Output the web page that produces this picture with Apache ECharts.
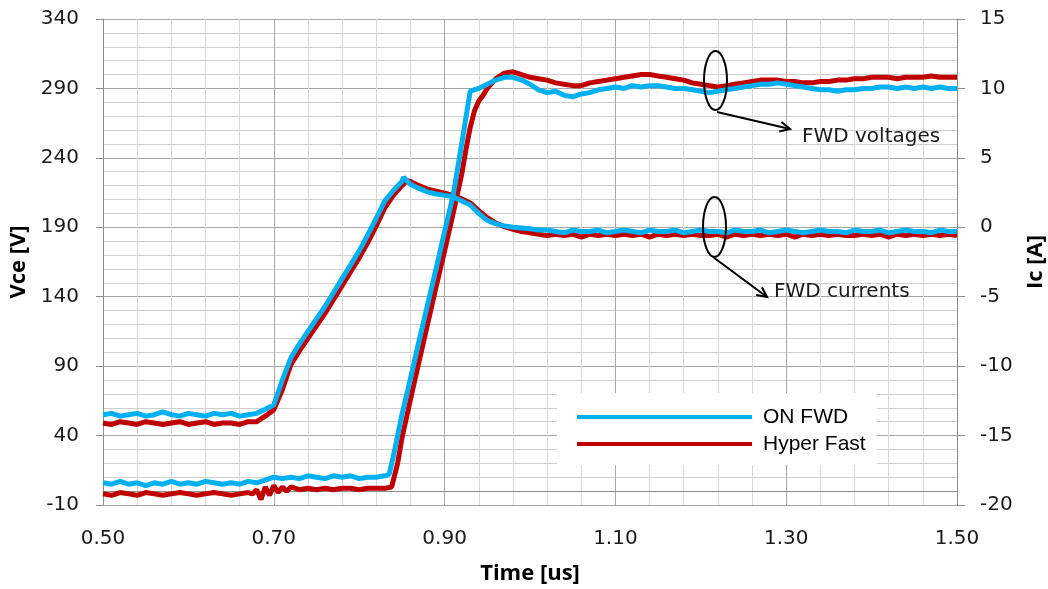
<!DOCTYPE html>
<html>
<head>
<meta charset="utf-8">
<script src="https://cdn.jsdelivr.net/npm/echarts@6/dist/echarts.min.js"></script>
<style>
html,body{margin:0;padding:0;background:#fff;overflow:hidden;}
#chart{width:1048px;height:589px;}
</style>
</head>
<body>
<div id="chart"></div>
<script>
// ---- Data (time in us) ----
const seriesNames = ['ON FWD', 'Hyper Fast'];
const xTicks = { min: 0.50, max: 1.50, interval: 0.20 };
const vceTicks = { min: -10, max: 340, interval: 50 };
const icTicks = { min: -20, max: 15, interval: 5 };

// ON FWD collector-emitter voltage [V]
const onFwdVce = [[0.50,6],[0.51,5],[0.52,7],[0.53,5],[0.54,6],[0.55,4],[0.56,6],[0.57,5],[0.58,7],[0.59,5],[0.60,6],[0.61,5],[0.62,7],[0.63,6],[0.64,5],[0.65,6],[0.66,5],[0.67,7],[0.68,6],[0.69,8],[0.70,10],[0.71,9],[0.72,10],[0.73,9],[0.74,11],[0.75,10],[0.76,9],[0.77,11],[0.78,10],[0.79,11],[0.80,9],[0.81,10],[0.82,10],[0.83,11],[0.835,12],[0.84,25],[0.845,40],[0.85,55],[0.86,81],[0.87,108],[0.88,134],[0.89,160],[0.90,187],[0.91,213],[0.92,250],[0.93,288],[0.94,290],[0.95,293],[0.96,296],[0.97,298],[0.98,298],[0.99,296],[1.00,293],[1.01,289],[1.02,287],[1.03,288],[1.04,285],[1.05,284],[1.06,286],[1.07,287],[1.08,289],[1.09,290],[1.10,291],[1.11,290],[1.12,292],[1.13,291],[1.14,292],[1.15,292],[1.16,291],[1.17,290],[1.18,290],[1.19,289],[1.20,288],[1.21,287],[1.22,288],[1.23,289],[1.24,290],[1.25,291],[1.26,292],[1.27,293],[1.28,293],[1.29,294],[1.30,293],[1.31,292],[1.32,291],[1.33,290],[1.34,289],[1.35,289],[1.36,288],[1.37,289],[1.38,289],[1.39,290],[1.40,290],[1.41,291],[1.42,291],[1.43,290],[1.44,291],[1.45,290],[1.46,291],[1.47,290],[1.48,291],[1.49,290],[1.50,290]];

// Hyper Fast collector-emitter voltage [V]
const hyperFastVce = [[0.50,-2],[0.51,-3],[0.52,-1],[0.53,-2],[0.54,-3],[0.55,-1],[0.56,-2],[0.57,-3],[0.58,-2],[0.59,-1],[0.60,-2],[0.61,-3],[0.62,-2],[0.63,-1],[0.64,-2],[0.65,-3],[0.66,-2],[0.67,-1],[0.675,-2],[0.68,1],[0.685,-6],[0.69,3],[0.695,-3],[0.70,4],[0.705,-1],[0.71,3],[0.715,0],[0.72,3],[0.73,1],[0.74,2],[0.75,1],[0.76,2],[0.77,1],[0.78,2],[0.79,2],[0.80,1],[0.81,2],[0.82,2],[0.83,2],[0.838,3],[0.845,20],[0.85,38],[0.86,66],[0.87,93],[0.88,120],[0.89,147],[0.90,173],[0.91,200],[0.92,228],[0.925,246],[0.93,262],[0.935,274],[0.94,281],[0.945,285],[0.95,290],[0.96,297],[0.97,301],[0.98,302],[0.99,300],[1.00,298],[1.01,297],[1.02,296],[1.03,294],[1.04,293],[1.05,292],[1.06,292],[1.07,294],[1.08,295],[1.09,296],[1.10,297],[1.11,298],[1.12,299],[1.13,300],[1.14,300],[1.15,299],[1.16,298],[1.17,297],[1.18,296],[1.19,294],[1.20,293],[1.21,292],[1.22,291],[1.23,292],[1.24,293],[1.25,294],[1.26,295],[1.27,296],[1.28,296],[1.29,296],[1.30,295],[1.31,295],[1.32,294],[1.33,294],[1.34,295],[1.35,295],[1.36,296],[1.37,296],[1.38,297],[1.39,297],[1.40,298],[1.41,298],[1.42,298],[1.43,297],[1.44,298],[1.45,298],[1.46,298],[1.47,299],[1.48,298],[1.49,298],[1.50,298]];

// ON FWD collector current [A]
const onFwdIc = [[0.50,-13.5],[0.51,-13.4],[0.52,-13.6],[0.53,-13.5],[0.54,-13.4],[0.55,-13.6],[0.56,-13.5],[0.57,-13.3],[0.58,-13.5],[0.59,-13.6],[0.60,-13.4],[0.61,-13.5],[0.62,-13.6],[0.63,-13.4],[0.64,-13.5],[0.65,-13.4],[0.66,-13.6],[0.67,-13.5],[0.68,-13.4],[0.69,-13.1],[0.70,-12.8],[0.71,-11.0],[0.72,-9.4],[0.73,-8.4],[0.74,-7.5],[0.75,-6.6],[0.76,-5.7],[0.77,-4.7],[0.78,-3.7],[0.79,-2.7],[0.80,-1.7],[0.81,-0.55],[0.82,0.65],[0.83,1.9],[0.84,2.65],[0.85,3.3],[0.852,3.6],[0.86,3.1],[0.87,2.8],[0.88,2.55],[0.89,2.4],[0.90,2.3],[0.91,2.2],[0.92,1.9],[0.93,1.6],[0.94,1.0],[0.95,0.5],[0.96,0.25],[0.97,0.1],[0.98,0.0],[0.99,-0.05],[1.00,-0.1],[1.01,-0.2],[1.02,-0.2],[1.03,-0.3],[1.04,-0.4],[1.05,-0.2],[1.06,-0.3],[1.07,-0.3],[1.08,-0.2],[1.09,-0.4],[1.10,-0.3],[1.11,-0.2],[1.12,-0.3],[1.13,-0.4],[1.14,-0.2],[1.15,-0.3],[1.16,-0.3],[1.17,-0.2],[1.18,-0.4],[1.19,-0.3],[1.20,-0.2],[1.21,-0.3],[1.22,-0.3],[1.23,-0.4],[1.24,-0.2],[1.25,-0.3],[1.26,-0.3],[1.27,-0.2],[1.28,-0.4],[1.29,-0.3],[1.30,-0.2],[1.31,-0.3],[1.32,-0.4],[1.33,-0.3],[1.34,-0.2],[1.35,-0.3],[1.36,-0.3],[1.37,-0.4],[1.38,-0.2],[1.39,-0.3],[1.40,-0.3],[1.41,-0.2],[1.42,-0.4],[1.43,-0.3],[1.44,-0.2],[1.45,-0.3],[1.46,-0.3],[1.47,-0.4],[1.48,-0.2],[1.49,-0.3],[1.50,-0.3]];

// Hyper Fast collector current [A]
const hyperFastIc = [[0.50,-14.1],[0.51,-14.2],[0.52,-14.0],[0.53,-14.1],[0.54,-14.2],[0.55,-14.0],[0.56,-14.1],[0.57,-14.2],[0.58,-14.1],[0.59,-14.0],[0.60,-14.2],[0.61,-14.1],[0.62,-14.0],[0.63,-14.2],[0.64,-14.1],[0.65,-14.1],[0.66,-14.2],[0.67,-14.0],[0.68,-14.0],[0.69,-13.6],[0.70,-13.15],[0.71,-11.7],[0.72,-9.9],[0.73,-8.9],[0.74,-8.0],[0.75,-7.1],[0.76,-6.2],[0.77,-5.2],[0.78,-4.2],[0.79,-3.2],[0.80,-2.2],[0.81,-1.1],[0.82,0.1],[0.83,1.4],[0.84,2.3],[0.85,3.0],[0.856,3.35],[0.86,3.3],[0.87,3.0],[0.88,2.75],[0.89,2.6],[0.90,2.45],[0.91,2.3],[0.92,2.05],[0.93,1.75],[0.94,1.2],[0.95,0.7],[0.96,0.3],[0.97,0.05],[0.98,-0.15],[0.99,-0.3],[1.00,-0.4],[1.01,-0.5],[1.02,-0.6],[1.03,-0.5],[1.04,-0.6],[1.05,-0.5],[1.06,-0.7],[1.07,-0.5],[1.08,-0.6],[1.09,-0.5],[1.10,-0.6],[1.11,-0.5],[1.12,-0.6],[1.13,-0.5],[1.14,-0.7],[1.15,-0.5],[1.16,-0.6],[1.17,-0.5],[1.18,-0.6],[1.19,-0.5],[1.20,-0.6],[1.21,-0.6],[1.22,-0.5],[1.23,-0.7],[1.24,-0.5],[1.25,-0.6],[1.26,-0.5],[1.27,-0.6],[1.28,-0.5],[1.29,-0.6],[1.30,-0.5],[1.31,-0.7],[1.32,-0.5],[1.33,-0.6],[1.34,-0.5],[1.35,-0.6],[1.36,-0.5],[1.37,-0.6],[1.38,-0.6],[1.39,-0.5],[1.40,-0.6],[1.41,-0.5],[1.42,-0.7],[1.43,-0.5],[1.44,-0.6],[1.45,-0.5],[1.46,-0.6],[1.47,-0.5],[1.48,-0.6],[1.49,-0.5],[1.50,-0.6]];

const blue = '#00B0F0';
const red = '#C00000';

const chart = echarts.init(document.getElementById('chart'), null, { renderer: 'canvas' });

const tickFont = { fontFamily: 'DejaVu Sans', fontSize: 20, color: '#1a1a1a' };
const nameFont = { fontFamily: 'Open Sans', fontWeight: 'bold', fontSize: 22, color: '#000' };

function lineSeries(name, data, color, yIdx) {
  return {
    name: name, type: 'line', data: data, yAxisIndex: yIdx,
    showSymbol: false, symbol: 'none', animation: false,
    lineStyle: { color: color, width: 5 }, itemStyle: { color: color },
    emphasis: { disabled: true }
  };
}

function arrowGraphic(x1, y1, x2, y2) {
  const ang = Math.atan2(y2 - y1, x2 - x1);
  const L = 11, a = 0.45;
  const h1 = [x2 - L * Math.cos(ang - a), y2 - L * Math.sin(ang - a)];
  const h2 = [x2 - L * Math.cos(ang + a), y2 - L * Math.sin(ang + a)];
  return [
    { type: 'polyline', shape: { points: [[x1, y1], [x2, y2]] }, style: { stroke: '#000', lineWidth: 2, fill: null }, z: 100 },
    { type: 'polyline', shape: { points: [h1, [x2, y2], h2] }, style: { stroke: '#000', lineWidth: 2, fill: null }, z: 100 }
  ];
}

const graphics = [
  { type: 'ellipse', shape: { cx: 715.5, cy: 80.5, rx: 11.5, ry: 29.5 }, style: { stroke: '#000', lineWidth: 2, fill: null }, z: 100 },
  { type: 'ellipse', shape: { cx: 714.5, cy: 227, rx: 11.5, ry: 30 }, style: { stroke: '#000', lineWidth: 2, fill: null }, z: 100 },
  ...arrowGraphic(717, 112, 790, 129),
  ...arrowGraphic(713, 257, 767, 297),
  { type: 'text', left: 802, top: 127, style: { text: 'FWD voltages', fontFamily: 'DejaVu Sans', fontSize: 20, fill: '#1a1a1a' }, z: 100 },
  { type: 'text', left: 774, top: 282, style: { text: 'FWD currents', fontFamily: 'DejaVu Sans', fontSize: 20, fill: '#1a1a1a' }, z: 100 }
];

const option = {
  backgroundColor: '#fff',
  animation: false,
  grid: { left: 103, right: 91, top: 19, bottom: 84, containLabel: false, outerBoundsMode: 'none' },
  legend: {
    data: seriesNames,
    orient: 'vertical',
    left: 557, top: 393,
    backgroundColor: '#fff',
    padding: [13, 11, 10, 20],
    itemWidth: 175, itemHeight: 14, itemGap: 5,
    icon: 'path://M0,0 L175,0 L175,4 L0,4 Z',
    textStyle: { fontFamily: 'Liberation Sans', fontSize: 21, lineHeight: 22, color: '#000', padding: [0, 0, 0, 6] },
    selectedMode: false,
    z: 50
  },
  xAxis: {
    type: 'value', min: xTicks.min, max: xTicks.max, interval: xTicks.interval,
    name: 'Time [us]', nameLocation: 'middle', nameGap: 58, nameTextStyle: nameFont,
    axisLine: { show: true, lineStyle: { color: '#8c8c8c', width: 1 } },
    axisTick: { show: false },
    axisLabel: { ...tickFont, margin: 24, formatter: v => v.toFixed(2) },
    splitLine: { show: true, lineStyle: { color: '#a6a6a6', width: 1 } },
    minorTick: { show: false, splitNumber: 5 },
    minorSplitLine: { show: true, lineStyle: { color: '#d9d9d9', width: 1 } }
  },
  yAxis: [
    {
      type: 'value', min: vceTicks.min, max: vceTicks.max, interval: vceTicks.interval,
      name: 'Vce [V]', nameLocation: 'middle', nameGap: 68, nameTextStyle: nameFont,
      axisLine: { show: true, lineStyle: { color: '#8c8c8c', width: 1 } },
      axisTick: { show: true, length: 7, lineStyle: { color: '#8c8c8c' } },
      axisLabel: { ...tickFont, margin: 24 },
      splitLine: { show: true, lineStyle: { color: '#a6a6a6', width: 1 } },
      minorTick: { show: false, splitNumber: 5 },
      minorSplitLine: { show: true, lineStyle: { color: '#cfcfcf', width: 1 } }
    },
    {
      type: 'value', min: icTicks.min, max: icTicks.max, interval: icTicks.interval, position: 'right',
      name: 'Ic [A]', nameLocation: 'middle', nameGap: 68, nameTextStyle: nameFont,
      axisLine: { show: true, lineStyle: { color: '#8c8c8c', width: 1 } },
      axisTick: { show: true, length: 8, lineStyle: { color: '#8c8c8c' } },
      axisLabel: { ...tickFont, margin: 23 },
      splitLine: { show: false }
    }
  ],
  series: [
    lineSeries('Hyper Fast', hyperFastVce, red, 0),
    lineSeries('Hyper Fast', hyperFastIc, red, 1),
    lineSeries('ON FWD', onFwdVce, blue, 0),
    lineSeries('ON FWD', onFwdIc, blue, 1)
  ],
  graphic: graphics
};
chart.setOption(option);
</script>
</body>
</html>
